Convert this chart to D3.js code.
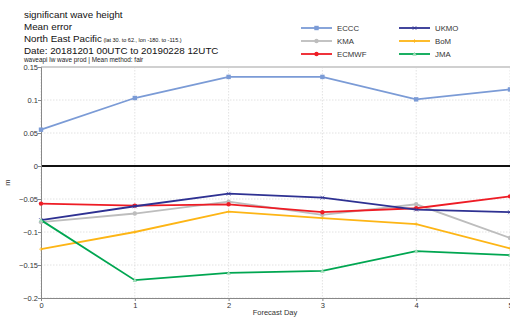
<!DOCTYPE html>
<html>
<head>
<meta charset="utf-8">
<script src="https://cdn.jsdelivr.net/npm/d3@7"></script>
<style>
  body { margin: 0; background: #fff; }
  svg { display: block; font-family: "Liberation Sans", Arial, sans-serif; }
</style>
</head>
<body>
<svg id="chart" width="510" height="318"></svg>
<script>
// forecast days and values (mean error, m)
var days = [0, 1, 2, 3, 4, 5];
var yTicks = [-0.2, -0.15, -0.1, -0.05, 0, 0.05, 0.1, 0.15];

var ECCC  = [0.055, 0.103, 0.135, 0.135, 0.101, 0.116];
var KMA   = [-0.085, -0.072, -0.054, -0.074, -0.058, -0.109];
var ECMWF = [-0.057, -0.060, -0.058, -0.070, -0.064, -0.046];
var UKMO  = [-0.082, -0.061, -0.042, -0.048, -0.066, -0.070];
var BoM   = [-0.126, -0.100, -0.069, -0.079, -0.088, -0.125];
var JMA   = [-0.082, -0.173, -0.162, -0.159, -0.129, -0.135];

var series = [
  {name: "ECCC",  values: ECCC,  color: "#7b9bd6", marker: "square"},
  {name: "KMA",   values: KMA,   color: "#bdbdbd", marker: "circle"},
  {name: "ECMWF", values: ECMWF, color: "#ee1c25", marker: "circle"},
  {name: "UKMO",  values: UKMO,  color: "#2e3192", marker: "cross"},
  {name: "BoM",   values: BoM,   color: "#fdb515", marker: "plus"},
  {name: "JMA",   values: JMA,   color: "#00a651", marker: "triangle"}
];

var svg = d3.select("#chart");
var pLeft = 41, pRight = 510, pTop = 67, pBottom = 298;

var x = d3.scaleLinear().domain([0, 5]).range([pLeft, pRight]);
var y = d3.scaleLinear().domain([-0.2, 0.15]).range([pBottom, pTop]);

// titles
var titles = ["significant wave height", "Mean error", "North East Pacific", "Date: 20181201 00UTC to 20190228 12UTC"];
titles.forEach(function(t, i) {
  var tx = svg.append("text")
    .attr("x", 24).attr("y", 18 + i * 12)
    .attr("font-size", 9.8).attr("fill", "#111")
    .text(t);
  if (i == 2) {
    tx.append("tspan").attr("font-size", 5.5).text("  (lat  30.  to 62.,  lon  -180.  to  -115.)");
  }
});
svg.append("text").attr("x", 24).attr("y", 61.5)
  .attr("font-size", 6.4).attr("fill", "#222")
  .text("waveapi lw wave prod | Mean method: fair");

// grid
var g = svg.append("g");
g.selectAll(".hg").data(yTicks).enter().append("line")
  .attr("x1", pLeft).attr("x2", pRight)
  .attr("y1", function(d) { return y(d); }).attr("y2", function(d) { return y(d); })
  .attr("stroke", "#dadada").attr("stroke-dasharray", "1.5,1.5").attr("stroke-width", 0.8);
g.selectAll(".vg").data(days).enter().append("line")
  .attr("x1", function(d) { return x(d); }).attr("x2", function(d) { return x(d); })
  .attr("y1", pTop).attr("y2", pBottom)
  .attr("stroke", "#dadada").attr("stroke-dasharray", "1.5,1.5").attr("stroke-width", 0.8);

// top border
g.append("line").attr("x1", pLeft).attr("x2", 512).attr("y1", pTop).attr("y2", pTop)
  .attr("stroke", "#d0d0d0").attr("stroke-width", 2);

// zero line
g.append("line").attr("x1", pLeft).attr("x2", pRight).attr("y1", y(0)).attr("y2", y(0))
  .attr("stroke", "#111").attr("stroke-width", 1.8);

// axes
var yAxis = svg.append("g")
  .attr("transform", "translate(" + pLeft + ",0)")
  .call(d3.axisLeft(y).tickValues(yTicks).tickSize(3).tickFormat(function(d) { return d3.format("")(+d.toFixed(2)); }));
var xAxis = svg.append("g")
  .attr("transform", "translate(0," + pBottom + ")")
  .call(d3.axisBottom(x).tickValues(days).tickSize(3).tickFormat(d3.format("d")));
[yAxis, xAxis].forEach(function(a) {
  a.select(".domain").attr("stroke", "#888");
  a.selectAll(".tick line").attr("stroke", "#888");
  a.selectAll("text").attr("font-size", 7.5).attr("fill", "#333").attr("font-family", "Liberation Sans, Arial, sans-serif");
});
yAxis.selectAll("text").attr("x", -3);
xAxis.selectAll("text").attr("y", 5);

svg.append("text").attr("x", 275).attr("y", 315)
  .attr("text-anchor", "middle").attr("font-size", 7.5).attr("fill", "#333")
  .text("Forecast Day");
svg.append("text").attr("transform", "translate(10," + ((pTop + pBottom) / 2) + ") rotate(-90)")
  .attr("text-anchor", "middle").attr("font-size", 7.5).attr("fill", "#333")
  .text("m");

// lines
var line = d3.line().x(function(d, i) { return x(days[i]); }).y(function(d) { return y(d); });

function drawMarker(sel, type, color, cx, cy) {
  if (type == "square") {
    sel.append("rect").attr("x", cx - 2.2).attr("y", cy - 2.2).attr("width", 4.4).attr("height", 4.4).attr("fill", color);
  } else if (type == "circle") {
    sel.append("circle").attr("cx", cx).attr("cy", cy).attr("r", 2.2).attr("fill", color);
  } else if (type == "cross") {
    sel.append("path").attr("d", "M" + (cx - 2) + "," + (cy - 2) + "L" + (cx + 2) + "," + (cy + 2) + "M" + (cx - 2) + "," + (cy + 2) + "L" + (cx + 2) + "," + (cy - 2))
      .attr("stroke", color).attr("stroke-width", 1).attr("opacity", 0.6);
  } else if (type == "plus") {
    sel.append("path").attr("d", "M" + (cx - 2) + "," + cy + "L" + (cx + 2) + "," + cy + "M" + cx + "," + (cy - 2) + "L" + cx + "," + (cy + 2))
      .attr("stroke", color).attr("stroke-width", 1).attr("opacity", 0.6);
  } else if (type == "triangle") {
    sel.append("path").attr("d", "M" + cx + "," + (cy - 2.2) + "L" + (cx + 2.2) + "," + (cy + 1.8) + "L" + (cx - 2.2) + "," + (cy + 1.8) + "Z")
      .attr("fill", "#9fdcb8");
  }
}

var lg = svg.append("g");
series.forEach(function(s) {
  lg.append("path").datum(s.values)
    .attr("d", line).attr("fill", "none")
    .attr("stroke", s.color).attr("stroke-width", 1.8);
  var mk = lg.append("g");
  s.values.forEach(function(v, i) { drawMarker(mk, s.marker, s.color, x(days[i]), y(v)); });
});

// legend
var legendOrder = ["ECCC", "UKMO", "KMA", "BoM", "ECMWF", "JMA"];
legendOrder.forEach(function(n, i) {
  var s = series.filter(function(d) { return d.name == n; })[0];
  var col = i % 2, row = Math.floor(i / 2);
  var lx = 301 + col * 98, ly = 28 + row * 13;
  var item = svg.append("g");
  item.append("line").attr("x1", lx).attr("x2", lx + 31).attr("y1", ly).attr("y2", ly)
    .attr("stroke", s.color).attr("stroke-width", 1.8);
  drawMarker(item, s.marker, s.color, lx + 15.5, ly);
  item.append("text").attr("x", lx + 36).attr("y", ly + 2.8)
    .attr("font-size", 7.8).attr("fill", "#333").text(n);
});
</script>
</body>
</html>
